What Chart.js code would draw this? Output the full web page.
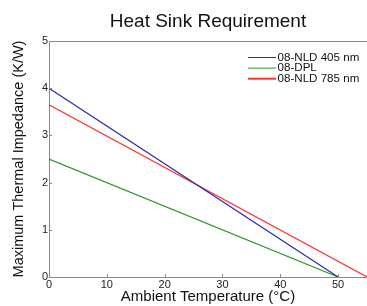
<!DOCTYPE html>
<html>
<head>
<meta charset="utf-8">
<script src="https://cdn.jsdelivr.net/npm/chart.js@4"></script>
<style>
  html, body { margin: 0; padding: 0; background: #fff; }
  canvas { display: block; }
</style>
</head>
<body>
<canvas id="myChart" width="367" height="306"></canvas>
<script>
// values
const temps405 = [0, 50];
const nld405 = [4, 0];
const tempsDpl = [0, 50];
const dpl = [2.5, 0];
const temps785 = [0, 55];
const nld785 = [3.65, 0];
const seriesNames = ["08-NLD 405 nm", "08-DPL", "08-NLD 785 nm"];

const FONT = "'Liberation Sans', Arial, sans-serif";

function pts(xs, ys) {
  return xs.map((x, i) => ({ x: x, y: ys[i] }));
}

// frame line on top, small inward tick marks, legend in the plot
const framePlugin = {
  id: "frame",
  afterDraw(chart) {
    const ctx = chart.ctx;
    const a = chart.chartArea;
    ctx.save();
    ctx.strokeStyle = "#8a8a8a";
    ctx.lineWidth = 1;
    ctx.beginPath();
    ctx.moveTo(a.left, a.top + 0.5);
    ctx.lineTo(a.right, a.top + 0.5);
    chart.scales.y.ticks.forEach((t) => {
      const py = Math.round(chart.scales.y.getPixelForValue(t.value)) + 0.5;
      ctx.moveTo(a.left, py);
      ctx.lineTo(a.left + 3, py);
    });
    chart.scales.x.ticks.forEach((t) => {
      const px = Math.round(chart.scales.x.getPixelForValue(t.value)) + 0.5;
      ctx.moveTo(px, a.bottom);
      ctx.lineTo(px, a.bottom - 3);
    });
    ctx.stroke();

    ctx.font = "11.6px " + FONT;
    ctx.textBaseline = "middle";
    ctx.fillStyle = "#111";
    chart.data.datasets.forEach((ds, i) => {
      const y = 57.5 + i * 10.6;
      ctx.strokeStyle = ds.borderColor;
      ctx.lineWidth = i == 2 ? 2 : 1;
      ctx.beginPath();
      ctx.moveTo(248, y);
      ctx.lineTo(276, y);
      ctx.stroke();
      ctx.fillText(ds.label, 277.5, y);
    });
    ctx.restore();
  },
};

const data = {
  datasets: [
    { label: seriesNames[0], data: pts(temps405, nld405), borderColor: "#2a2ab0", borderWidth: 1.2 },
    { label: seriesNames[1], data: pts(tempsDpl, dpl), borderColor: "#2a962a", borderWidth: 1.2 },
    { label: seriesNames[2], data: pts(temps785, nld785), borderColor: "#ff3535", borderWidth: 1.2 },
  ],
};

const config = {
  type: "line",
  data: data,
  options: {
    responsive: false,
    animation: false,
    layout: { padding: { left: 10, right: 0, top: 0, bottom: 0 } },
    elements: { point: { radius: 0 }, line: { tension: 0 } },
    plugins: {
      legend: { display: false },
      tooltip: { enabled: false },
      title: {
        display: true,
        fullSize: false,
        text: "Heat Sink Requirement",
        color: "#111",
        font: { family: FONT, size: 19, weight: "normal" },
        padding: { top: 10, bottom: 8.2 },
      },
    },
    scales: {
      x: {
        type: "linear",
        min: 0,
        max: 55,
        grid: { display: false, drawTicks: false },
        border: { color: "#8a8a8a" },
        ticks: {
          stepSize: 10,
          includeBounds: false,
          padding: 1,
          color: "#222",
          font: { family: FONT, size: 11 },
          maxRotation: 0,
        },
        title: {
          display: true,
          text: "Ambient Temperature (°C)",
          color: "#111",
          font: { family: FONT, size: 15 },
          padding: { top: 0, bottom: 0 },
        },
        afterFit(scale) {
          scale.height = 29;
        },
      },
      y: {
        min: 0,
        max: 5,
        grid: { display: false, drawTicks: false },
        border: { color: "#8a8a8a" },
        ticks: {
          stepSize: 1,
          padding: 1,
          color: "#222",
          font: { family: FONT, size: 11 },
        },
        title: {
          display: true,
          text: "Maximum Thermal Impedance (K/W)",
          color: "#111",
          font: { family: FONT, size: 14.5 },
          padding: { top: 0, bottom: 0 },
        },
        afterFit(scale) {
          scale.width = 39;
        },
      },
    },
  },
  plugins: [framePlugin],
};

new Chart(document.getElementById("myChart"), config);
</script>
</body>
</html>
